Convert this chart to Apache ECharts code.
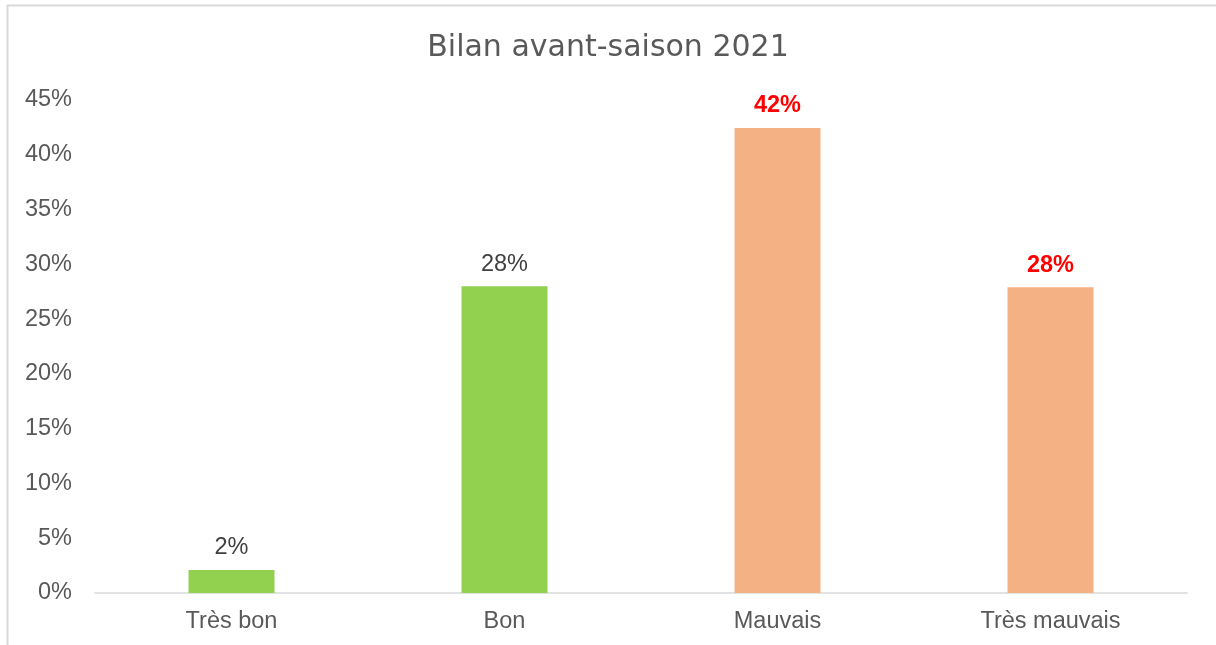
<!DOCTYPE html>
<html>
<head>
<meta charset="utf-8">
<script src="https://cdn.jsdelivr.net/npm/echarts@6/dist/echarts.min.js"></script>
<style>
  html, body { margin: 0; padding: 0; background: #fff; }
  #chart { width: 1216px; height: 645px; }
</style>
</head>
<body>
<div id="chart"></div>
<script>
  const categories = ['Très bon', 'Bon', 'Mauvais', 'Très mauvais'];
  const values = [2.1, 28.0, 42.45, 27.9];
  const barColors = ['#92D050', '#92D050', '#F4B183', '#F4B183'];
  const labelRed = [false, false, true, true];
  const yTicks = [0, 5, 10, 15, 20, 25, 30, 35, 40, 45];

  const chart = echarts.init(document.getElementById('chart'));
  chart.setOption({
    animation: false,
    title: {
      text: 'Bilan avant-saison 2021',
      left: 'center',
      top: 28,
      textStyle: { fontFamily: 'DejaVu Sans', fontWeight: 'normal', fontSize: 30, color: '#595959' }
    },
    graphic: [{
      type: 'rect',
      shape: { x: 7.5, y: 5.5, width: 1220, height: 700 },
      style: { fill: 'none', stroke: '#d9d9d9', lineWidth: 2 },
      silent: true
    }],
    grid: { left: 95, right: 29, top: 100, bottom: 52 },
    xAxis: {
      type: 'category',
      data: categories,
      axisTick: { show: false },
      axisLine: { lineStyle: { color: '#d9d9d9', width: 1.5 } },
      axisLabel: { fontFamily: 'Liberation Sans', fontSize: 23.5, color: '#595959', margin: 17 }
    },
    yAxis: {
      type: 'value',
      min: yTicks[0],
      max: yTicks[yTicks.length - 1],
      interval: 5,
      splitLine: { show: false },
      axisLine: { show: false },
      axisTick: { show: false },
      axisLabel: { fontFamily: 'Liberation Sans', fontSize: 23.5, color: '#595959', margin: 23, formatter: '{value}%' }
    },
    series: [{
      type: 'bar',
      barWidth: 86,
      data: values.map((v, i) => ({
        value: v,
        itemStyle: { color: barColors[i] },
        label: labelRed[i]
          ? { color: '#FF0000', fontWeight: 'bold' }
          : { color: '#404040', fontWeight: 'normal' }
      })),
      label: {
        show: true,
        position: 'top',
        distance: 10,
        fontFamily: 'Liberation Sans',
        fontSize: 23.5,
        formatter: p => Math.round(p.value) + '%'
      }
    }]
  });
</script>
</body>
</html>
